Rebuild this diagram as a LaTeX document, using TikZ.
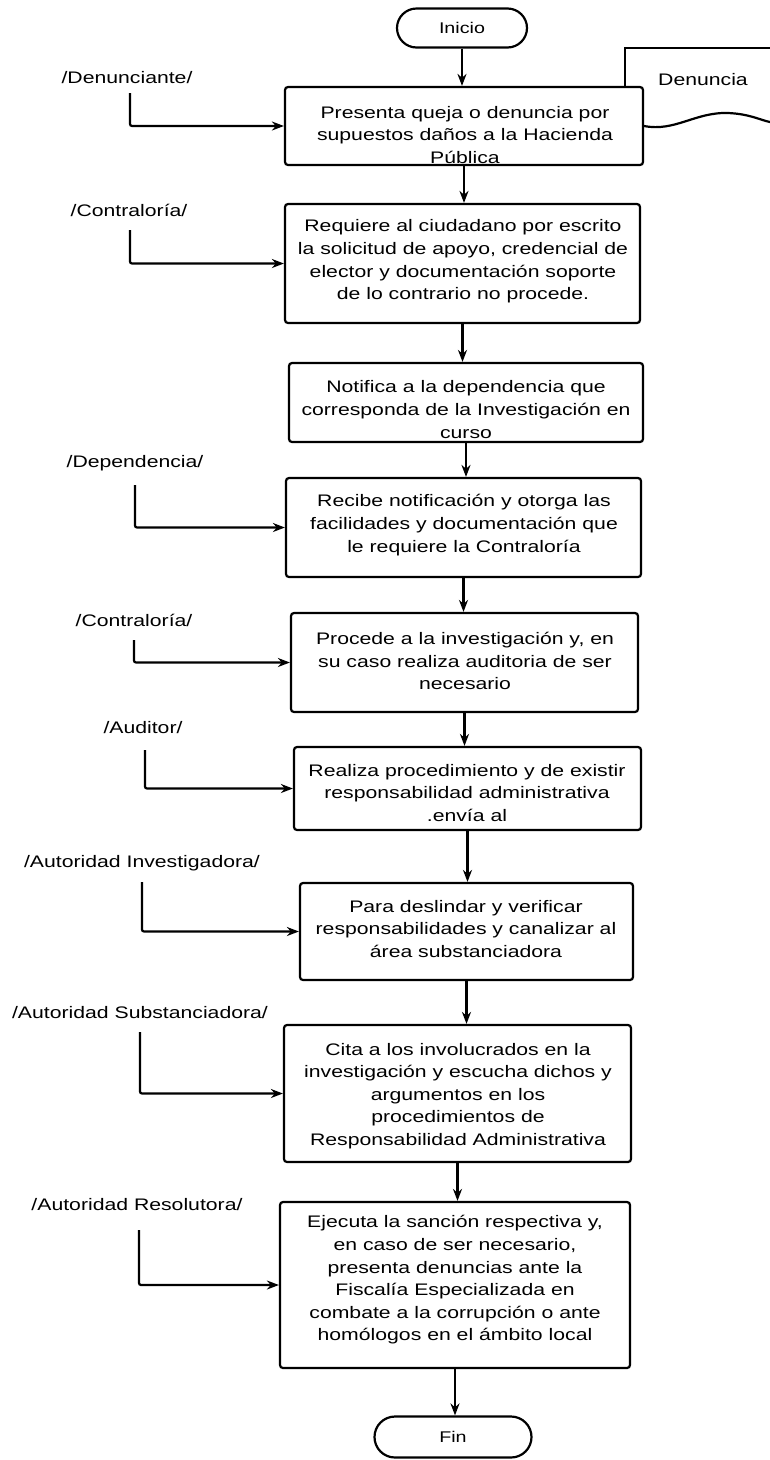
\documentclass[tikz,border=0pt]{standalone}
\usepackage{fontspec}
\setmainfont[FakeStretch=1.27]{Liberation Sans}
\usetikzlibrary{shapes.misc,arrows.meta}
\begin{document}
\begin{tikzpicture}[x=1pt,y=-1pt,
  box/.style={draw, line width=2.2pt, rounded corners=3pt, inner sep=0pt},
  term/.style={draw, line width=2.2pt, rounded rectangle, inner sep=0pt, font=\fontsize{15.5}{18}\selectfont},
  txt/.style={align=center, inner sep=0pt, font=\fontsize{16.7}{22.6}\selectfont},
  lab/.style={inner sep=0pt, font=\fontsize{16.7}{20}\selectfont},
  flow/.style={line width=2.2pt, -{Stealth[length=12pt,width=9pt]}},
  link/.style={line width=2.2pt, rounded corners=2pt, -{Stealth[length=12pt,width=9pt]}},
  plain/.style={line width=2.2pt}
]
\useasboundingbox[fill=white] (0,0) rectangle (770,1460);

% terminals
\node[term, minimum width=130pt, minimum height=39pt] (ini) at (462,28) {Inicio};
\node[term, minimum width=157pt, minimum height=41pt] (fin) at (453,1437) {Fin};

% process boxes
\node[box, minimum width=358pt, minimum height=78pt]  (b1) at (464,126) {};
\node[box, minimum width=355pt, minimum height=119pt] (b2) at (462.5,263.5) {};
\node[box, minimum width=354pt, minimum height=79pt]  (b3) at (466,402.5) {};
\node[box, minimum width=355pt, minimum height=99pt]  (b4) at (463.5,527.5) {};
\node[box, minimum width=347pt, minimum height=99pt]  (b5) at (464.5,662.5) {};
\node[box, minimum width=347pt, minimum height=83pt]  (b6) at (467.5,788.5) {};
\node[box, minimum width=333pt, minimum height=97pt]  (b7) at (466.5,931.5) {};
\node[box, minimum width=347pt, minimum height=137pt] (b8) at (457.5,1093.5) {};
\node[box, minimum width=350pt, minimum height=166pt] (b9) at (455,1285) {};

% box texts
\node[txt] (t1) at (465,135) {Presenta queja o denuncia por\\supuestos daños a la Hacienda\\Pública};
\node[txt] (t2) at (463,261.5) {Requiere al ciudadano por escrito\\la solicitud de apoyo, credencial de\\elector y documentación soporte\\de lo contrario no procede.};
\node[txt] (t3) at (466,409.5) {Notifica a la dependencia que\\corresponda de la Investigación en\\curso};
\node[txt] (t4) at (464,525) {Recibe notificación y otorga las\\facilidades y documentación que\\le requiere la Contraloría};
\node[txt] (t5) at (465,661) {Procede a la investigación y, en\\su caso realiza auditoria de ser\\necesario};
\node[txt] (t6) at (467,793) {Realiza procedimiento y de existir\\responsabilidad administrativa\\.envía al};
\node[txt] (t7) at (466,929) {Para deslindar y verificar\\responsabilidades y canalizar al\\área substanciadora};
\node[txt] (t8) at (458,1096) {Cita a los involucrados en la\\investigación y escucha dichos y\\argumentos en los\\procedimientos de\\Responsabilidad Administrativa};
\node[txt] (t9) at (455,1280) {Ejecuta la sanción respectiva y,\\en caso de ser necesario,\\presenta denuncias ante la\\Fiscalía Especializada en\\combate a la corrupción o ante\\homólogos en el ámbito local};

% role labels
\node[lab] (l1) at (127,78)   {/Denunciante/};
\node[lab] (l2) at (129,210)  {/Contraloría/};
\node[lab] (l3) at (135,463)  {/Dependencia/};
\node[lab] (l4) at (134,620)  {/Contraloría/};
\node[lab] (l5) at (143,728)  {/Auditor/};
\node[lab] (l6) at (142,863)  {/Autoridad Investigadora/};
\node[lab] (l7) at (140,1013) {/Autoridad Substanciadora/};
\node[lab] (l8) at (137,1205) {/Autoridad Resolutora/};

% start points of role connectors
\coordinate (c1) at (130,93);
\coordinate (c2) at (130,230);
\coordinate (c3) at (135,485);
\coordinate (c4) at (134,640);
\coordinate (c5) at (145,750);
\coordinate (c6) at (142,882);
\coordinate (c7) at (140,1032);
\coordinate (c8) at (139,1230);

\draw[link] (c1) |- (b1.west);
\draw[link] (c2) |- (b2.west);
\draw[link] (c3) |- (b4.west);
\draw[link] (c4) |- (b5.west);
\draw[link] (c5) |- (b6.west);
\draw[link] (c6) |- (b7.west);
\draw[link] (c7) |- (b8.west);
\draw[link] (c8) |- (b9.west);

% main flow
\draw[flow] (ini.south) -- (ini.south |- b1.north);
\draw[flow] (b1.south) -- (b1.south |- b2.north);
\draw[flow] (b2.south) -- (b2.south |- b3.north);
\draw[flow] (b3.south) -- (b3.south |- b4.north);
\draw[flow] (b4.south) -- (b4.south |- b5.north);
\draw[flow] (b5.south) -- (b5.south |- b6.north);
\draw[flow] (b6.south) -- (b6.south |- b7.north);
\draw[flow] (b7.south) -- (b7.south |- b8.north);
\draw[flow] (b8.south) -- (b8.south |- b9.north);
\draw[flow] (b9.south) -- (b9.south |- fin.north);

% document "Denuncia" (partly behind box 1, cut by the page edge)
\coordinate (d0) at (625,48);
\draw[plain] (d0 |- b1.north) -- (d0) -- (770,48);
\node[lab] (den) at (703,80) {Denuncia};
\draw[plain] (b1.east) .. controls (675,132) and (695,112) .. (728,113)
  .. controls (750,114) and (760,120) .. (770,122);
\end{tikzpicture}
\end{document}
